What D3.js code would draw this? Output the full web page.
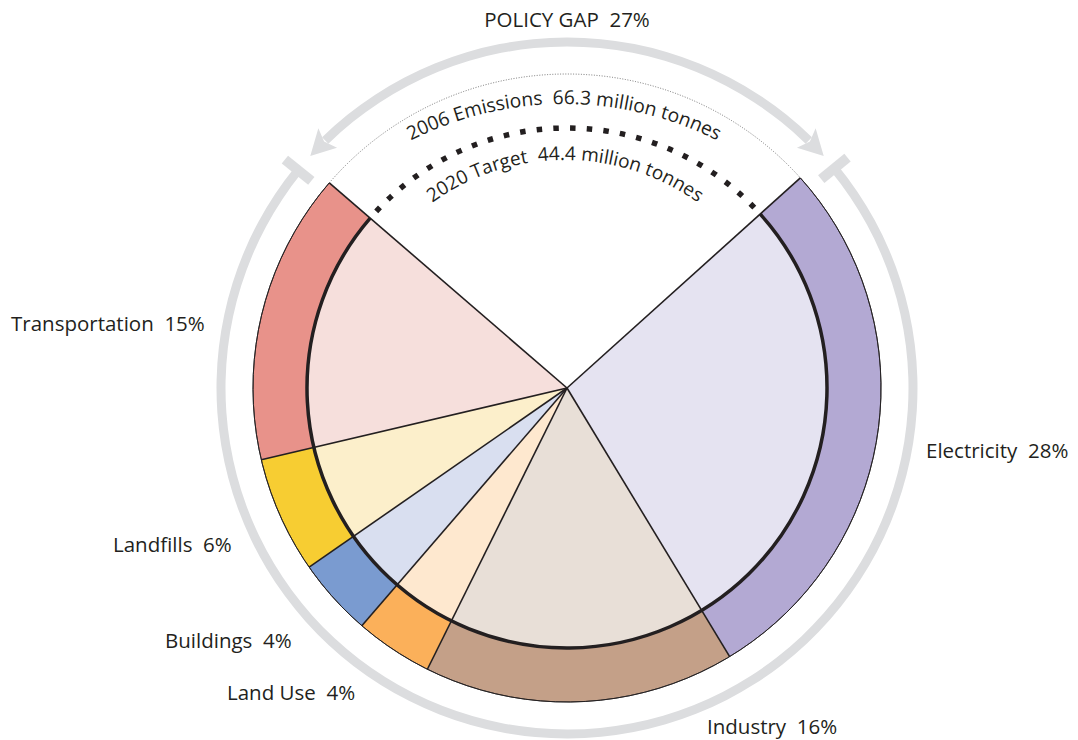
<!DOCTYPE html>
<html><head><meta charset="utf-8">
<script src="https://cdn.jsdelivr.net/npm/d3@7"></script>
<style>
html,body{margin:0;padding:0;background:#fff;}
svg{display:block;}
text{font-family:"Open Sans",sans-serif;fill:#231f20;white-space:pre;}
</style></head>
<body>
<svg id="chart" width="1078" height="740"></svg>
<script>
const categories = ["Electricity","Industry","Land Use","Buildings","Landfills","Transportation"];
const shares = [28,16,4,4,6,15];
const gapShare = 27;
const outerColors = ["#b3a9d3","#c4a088","#fbb05a","#7a9bd0","#f7cd32","#e8928a"];
const innerColors = ["#e5e3f1","#e8dfd7","#fee8cf","#d9dff0","#fcefcb","#f6dfdc"];
const labelText = ["Electricity  28%","Industry  16%","Land Use  4%","Buildings  4%","Landfills  6%","Transportation  15%"];
const gapLabel = "POLICY GAP  27%";
const emissionsLabel = "2006 Emissions  66.3 million tonnes";
const targetLabel = "2020 Target  44.4 million tonnes";

const W=1078,H=740, cx=567, cy=388;
const rInner=260, rOuter=314, rRing=346;
const deg = Math.PI/180;
const svg = d3.select("#chart");
const g = svg.append("g").attr("transform",`translate(${cx},${cy})`);

const total = d3.sum(shares)+gapShare;
const angleScale = d3.scaleLinear().domain([0,total]).range([0,2*Math.PI]);
const startA = 48*deg;
const pie = d3.pie().sort(null).value(d=>d).startAngle(startA).endAngle(startA+angleScale(d3.sum(shares)));
const arcsData = pie(shares);

const innerArc = d3.arc().innerRadius(0).outerRadius(rInner);
const outerArc = d3.arc().innerRadius(rInner).outerRadius(rOuter);
const pt = (a,r)=>[r*Math.sin(a), -r*Math.cos(a)];

// gray ring
const ringCol = "#dcdddf";
const gapStart = startA + angleScale(d3.sum(shares)) - 2*Math.PI; // negative angle
const tbarA = [50.6*deg, -51*deg];
g.append("path")
  .attr("d", d3.arc().innerRadius(rRing-4.5).outerRadius(rRing+4.5).startAngle(tbarA[0]).endAngle(2*Math.PI+tbarA[1])())
  .attr("fill", ringCol);
tbarA.forEach(a=>{
  const p1=pt(a,rRing-17), p2=pt(a,rRing+17);
  g.append("line").attr("x1",p1[0]).attr("y1",p1[1]).attr("x2",p2[0]).attr("y2",p2[1])
   .attr("stroke",ringCol).attr("stroke-width",10);
});
// top arc with arrows
const tipA = 47.9*deg, arrowLen = 25, arrowHalf = 13.5;
const baseA = tipA - arrowLen/rRing;
g.append("path")
  .attr("d", d3.arc().innerRadius(rRing-4.5).outerRadius(rRing+4.5).startAngle(-baseA-0.01).endAngle(baseA+0.01)())
  .attr("fill", ringCol);
[1,-1].forEach(s=>{
  const tip = pt(s*tipA, rRing);
  const b1 = pt(s*baseA, rRing-arrowHalf), b2 = pt(s*baseA, rRing+arrowHalf);
  const notch = pt(s*(baseA+5/rRing), rRing);
  g.append("path").attr("d", `M${tip}L${b1}L${notch}L${b2}Z`).attr("fill",ringCol);
});

// inner wedges
g.selectAll("path.inner").data(arcsData).join("path").attr("class","inner")
  .attr("d", innerArc).attr("fill",(d,i)=>innerColors[i]);
// outer band
g.selectAll("path.outer").data(arcsData).join("path").attr("class","outer")
  .attr("d", outerArc).attr("fill",(d,i)=>outerColors[i]);
// thin outline on outer edge
g.append("path")
  .attr("d", d3.arc().innerRadius(rOuter).outerRadius(rOuter).startAngle(startA).endAngle(startA+angleScale(d3.sum(shares)))())
  .attr("fill","none").attr("stroke","#231f20").attr("stroke-width",0.9);
// thick inner circle across segments
g.append("path")
  .attr("d", d3.arc().innerRadius(rInner).outerRadius(rInner).startAngle(startA).endAngle(startA+angleScale(d3.sum(shares)))())
  .attr("fill","none").attr("stroke","#231f20").attr("stroke-width",3.5);
// radial boundaries
const bounds = arcsData.map(d=>d.startAngle).concat([arcsData[arcsData.length-1].endAngle]);
g.selectAll("line.rad").data(bounds).join("line").attr("class","rad")
  .attr("x1",0).attr("y1",0)
  .attr("x2",a=>pt(a,rOuter)[0]).attr("y2",a=>pt(a,rOuter)[1])
  .attr("stroke","#231f20").attr("stroke-width",1.6);

// gap dotted arcs
function arcPath(r,a0,a1,ox=0,oy=0){
  const p0=pt(a0,r), p1=pt(a1,r);
  const large = Math.abs(a1-a0)>Math.PI?1:0;
  return `M${p0[0]+ox},${p0[1]+oy}A${r},${r} 0 ${large} 1 ${p1[0]+ox},${p1[1]+oy}`;
}
g.append("path").attr("d", arcPath(rOuter, gapStart, startA))
  .attr("fill","none").attr("stroke","#555").attr("stroke-width",0.8).attr("stroke-dasharray","1,1.6");
g.append("path").attr("d", arcPath(rInner, gapStart+0.035, startA-0.012))
  .attr("fill","none").attr("stroke","#231f20").attr("stroke-width",5.5).attr("stroke-dasharray","5.5,11.2");

// curved texts
const defs = svg.append("defs");
function curved(id, r, ox, oy, txt, size){
  defs.append("path").attr("id",id).attr("d", arcPath(r,-Math.PI/2,Math.PI/2,ox,oy));
  g.append("text").attr("font-size",size).attr("text-anchor","middle")
    .append("textPath").attr("href","#"+id).attr("startOffset","50%").text(txt);
}
curved("p2006", 339, -3, 55, emissionsLabel, 19.2);
curved("p2020", 228, -2, 0, targetLabel, 19);

// labels
const labelPos = [[926,458],[707,734],[227,700],[165,648],[113,552],[11,331]];
svg.selectAll("text.lbl").data(labelText).join("text").attr("class","lbl")
  .attr("x",(d,i)=>labelPos[i][0]).attr("y",(d,i)=>labelPos[i][1])
  .attr("font-size",20.5).text(d=>d);
svg.append("text").attr("x",567).attr("y",27).attr("text-anchor","middle").attr("font-size",20.5).text(gapLabel);
</script>
</body></html>
